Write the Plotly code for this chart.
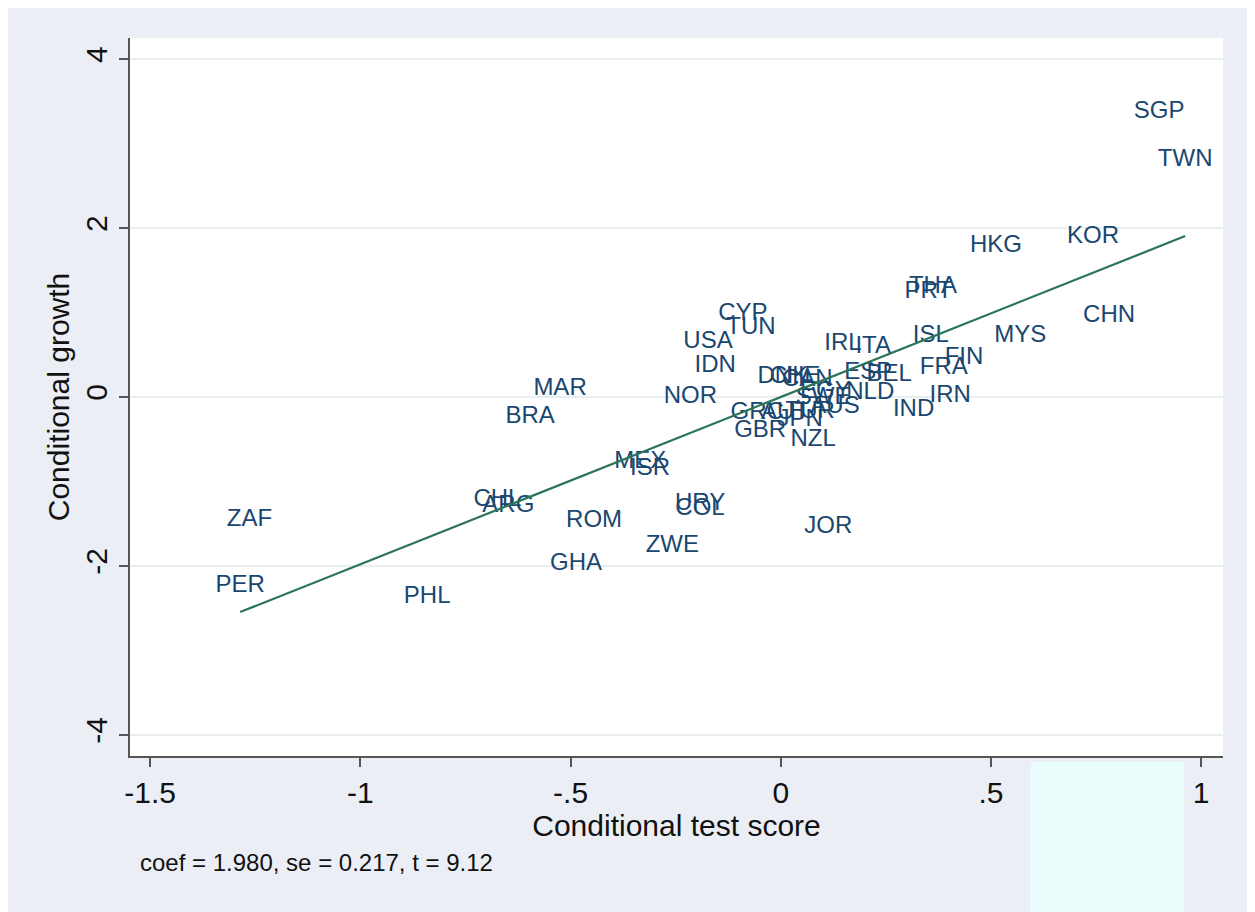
import plotly.graph_objects as go

# ---- data ----
countries = ["SGP", "TWN", "KOR", "HKG", "CHN", "MYS", "THA", "PRT", "ISL", "IRL",
             "ITA", "FIN", "FRA", "IRN", "IND", "ESP", "BEL", "NLD", "DNK", "CHE",
             "CAN", "EGY", "SWE", "AUS", "TUR", "AUT", "GRC", "JPN", "GBR", "NZL",
             "CYP", "TUN", "USA", "IDN", "NOR", "MAR", "BRA", "MEX", "ISR", "CHL",
             "ARG", "ZAF", "PER", "PHL", "GHA", "ROM", "ZWE", "URY", "COL", "JOR"]
test_score = [0.900, 0.962, 0.743, 0.512, 0.781, 0.570, 0.362, 0.351, 0.357, 0.148,
              0.220, 0.436, 0.388, 0.403, 0.316, 0.208, 0.258, 0.213, 0.005, 0.034,
              0.063, 0.106, 0.101, 0.129, 0.070, 0.010, -0.056, 0.046, -0.049, 0.077,
              -0.090, -0.071, -0.173, -0.156, -0.215, -0.525, -0.596, -0.334, -0.311, -0.674,
              -0.648, -1.264, -1.286, -0.841, -0.487, -0.444, -0.258, -0.192, -0.192, 0.113]
growth = [3.37, 2.80, 1.89, 1.79, 0.96, 0.72, 1.30, 1.24, 0.72, 0.63,
          0.59, 0.46, 0.34, 0.01, -0.15, 0.28, 0.26, 0.05, 0.24, 0.24,
          0.20, 0.06, -0.01, -0.12, -0.18, -0.19, -0.19, -0.27, -0.40, -0.51,
          0.98, 0.82, 0.65, 0.37, 0.00, 0.09, -0.24, -0.77, -0.85, -1.22,
          -1.29, -1.46, -2.24, -2.37, -1.98, -1.47, -1.76, -1.27, -1.33, -1.54]

coef = 1.980
se = 0.217
tstat = 9.12
intercept = 0.0

x_ticks = [-1.5, -1, -0.5, 0, 0.5, 1]
x_ticktext = ["-1.5", "-1", "-.5", "0", ".5", "1"]
y_ticks = [-4, -2, 0, 2, 4]
y_ticktext = ["-4", "-2", "0", "2", "4"]

# ---- figure ----
label_color = "#1a476f"
line_color = "#2a7458"
paper_bg = "#EBEFF5"
font_family = "Liberation Sans, Arial, sans-serif"

fig = go.Figure()

fig.add_trace(go.Scatter(
    x=test_score, y=growth, mode="text", text=countries,
    textposition="middle center",
    textfont=dict(family=font_family, size=24, color=label_color),
    hoverinfo="skip", showlegend=False,
))

x_min, x_max = min(test_score), max(test_score)
fig.add_trace(go.Scatter(
    x=[x_min, x_max], y=[intercept + coef * x_min, intercept + coef * x_max],
    mode="lines", line=dict(color=line_color, width=2.2),
    hoverinfo="skip", showlegend=False,
))

fig.update_layout(
    width=1247, height=904,
    margin=dict(l=122, r=32, t=30, b=156),
    paper_bgcolor=paper_bg, plot_bgcolor="white",
    font=dict(family=font_family, color="#111111"),
    xaxis=dict(
        range=[-1.548, 1.052], tickvals=x_ticks, ticktext=x_ticktext,
        showgrid=False, zeroline=False,
        showline=True, linecolor="#555555", linewidth=1.5,
        ticks="outside", ticklen=9, tickcolor="#555555", tickwidth=1.5,
        tickfont=dict(size=30, color="#111111"),
        title=dict(text="Conditional test score", font=dict(size=30, color="#111111"), standoff=2),
    ),
    yaxis=dict(
        range=[-4.25, 4.25], tickvals=y_ticks, ticktext=y_ticktext,
        tickangle=-90,
        showgrid=True, gridcolor="#E8EEF2", gridwidth=1.5, zeroline=False,
        showline=True, linecolor="#555555", linewidth=1.5,
        ticks="outside", ticklen=9, tickcolor="#555555", tickwidth=1.5,
        tickfont=dict(size=30, color="#111111"),
        title=dict(text="Conditional growth", font=dict(size=30, color="#111111"), standoff=2),
    ),
    shapes=[dict(type="rect", xref="paper", yref="paper",
                 x0=0.824, x1=0.964, y0=-0.23, y1=-0.0084,
                 fillcolor="#EBFEFE", line=dict(width=0), layer="below")],
    annotations=[dict(
        text=f"coef = {coef:.3f}, se = {se:.3f}, t = {tstat:.2f}",
        xref="paper", yref="paper", x=0.007, y=-0.149,
        xanchor="left", yanchor="middle", showarrow=False,
        font=dict(size=24, color="#111111"),
    )],
)

fig.write_html("out.html")
